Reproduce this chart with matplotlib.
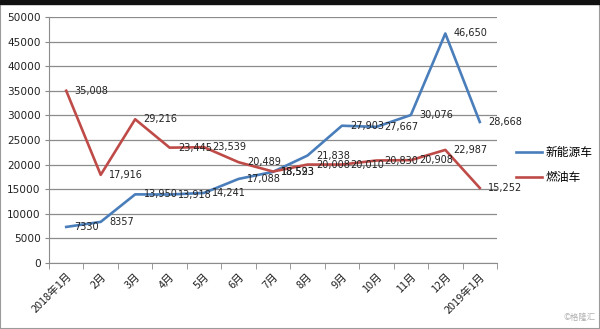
import matplotlib
matplotlib.use("Agg")
import matplotlib.pyplot as plt
from matplotlib.patches import Rectangle
import numpy as np

plt.rcParams["font.family"] = ["Noto Sans CJK SC", "DejaVu Sans"]

# 月份和两条系列的数据
months = ["2018年1月", "2月", "3月", "4月", "5月", "6月", "7月",
          "8月", "9月", "10月", "11月", "12月", "2019年1月"]
nev = [7330, 8357, 13950, 13918, 14241, 17088, 18523,
       21838, 27903, 27667, 30076, 46650, 28668]
fuel = [35008, 17916, 29216, 23445, 23539, 20489, 18593,
        20008, 20010, 20830, 20908, 22987, 15252]
nev_labels = ["7330", "8357"] + [f"{v:,}" for v in nev[2:]]
fuel_labels = [f"{v:,}" for v in fuel]

blue = "#4a7ebb"
red = "#be4b48"

fig = plt.figure(figsize=(6, 3.29), dpi=100)
ax = fig.add_axes([49 / 600, 1 - 263 / 329, 448 / 600, 246 / 329])

x = np.arange(len(months))
l1, = ax.plot(x, nev, color=blue, lw=1.9, label="新能源车")
l2, = ax.plot(x, fuel, color=red, lw=1.9, label="燃油车")

# 数据标签：放在点的右侧
for xi, v, s in zip(x, nev, nev_labels):
    ax.annotate(s, (xi, v), xytext=(6, 0), textcoords="offset points",
                va="center", ha="left", fontsize=7, color="#222222",
                family="DejaVu Sans")
for xi, v, s in zip(x, fuel, fuel_labels):
    ax.annotate(s, (xi, v), xytext=(6, 0), textcoords="offset points",
                va="center", ha="left", fontsize=7, color="#222222",
                family="DejaVu Sans")

ax.set_xlim(-0.5, len(months) - 0.5)
ax.set_ylim(0, 50000)
ax.set_yticks(np.arange(0, 50001, 5000))
ax.set_yticklabels([str(v) for v in range(0, 50001, 5000)],
                   fontsize=7.6, family="DejaVu Sans", color="#222222")
ax.set_xticks(x)
ax.set_xticklabels(months, rotation=45, ha="right", rotation_mode="anchor",
                   fontsize=7.8, color="#222222")
ax.set_xticks(np.arange(-0.5, len(months), 1), minor=True)
ax.tick_params(axis="x", which="major", length=0, pad=6)
ax.tick_params(axis="x", which="minor", length=4, color="#888888")
ax.tick_params(axis="y", length=3, color="#888888", pad=3)

ax.grid(axis="y", color="#8c8c8c", lw=0.9)
ax.set_axisbelow(True)
for side in ["top", "right"]:
    ax.spines[side].set_visible(False)
for side in ["left", "bottom"]:
    ax.spines[side].set_color("#8c8c8c")

fig.legend(handles=[l1, l2], loc="center left",
           bbox_to_anchor=(505 / 600, 1 - 165 / 329), frameon=False,
           fontsize=8.5, handlelength=2.2, labelspacing=1.0, handletextpad=0.3)

# 边框和水印
fig.patches.append(Rectangle((0, 0), 1, 1, transform=fig.transFigure,
                             fill=False, ec="#9a9a9a", lw=1.5))
fig.patches.append(Rectangle((0, 1 - 4 / 329), 1, 4 / 329,
                             transform=fig.transFigure, color="#111111"))
fig.text(596 / 600, 1 - 322 / 329, "©格隆汇", ha="right", va="bottom",
         fontsize=6, color="#b0b0b0")

fig.savefig("out.png", dpi=100)
